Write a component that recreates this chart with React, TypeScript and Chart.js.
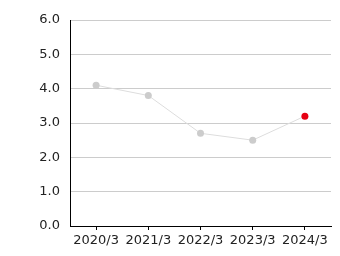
import React, { useEffect, useRef } from "react";
import { Chart, registerables } from "chart.js";

Chart.register(...registerables);

const categories = ["2020/3", "2021/3", "2022/3", "2023/3", "2024/3"];
const values = [4.1, 3.8, 2.7, 2.5, 3.2];
const pointColors = ["#cccccc", "#cccccc", "#cccccc", "#cccccc", "#e60012"];

export default function App() {
  const ref = useRef<HTMLCanvasElement | null>(null);
  useEffect(() => {
    if (!ref.current) return;
    const font = { family: "'DejaVu Sans', Verdana, sans-serif", size: 13 };
    const chart = new Chart(ref.current, {
      type: "line",
      data: {
        labels: categories,
        datasets: [
          {
            data: values,
            borderColor: "#dddddd",
            borderWidth: 1,
            pointBackgroundColor: pointColors,
            pointBorderColor: pointColors,
            pointRadius: 3.5,
            pointBorderWidth: 0,
            tension: 0,
          },
        ],
      },
      options: {
        animation: false,
        responsive: false,
        maintainAspectRatio: false,
        layout: { padding: { top: 20, right: 9, left: 0, bottom: 0 } },
        plugins: { legend: { display: false }, tooltip: { enabled: false } },
        scales: {
          x: {
            type: "category",
            offset: true,
            grid: { drawOnChartArea: false, drawTicks: true, tickLength: 4, color: "#000" },
            border: { color: "#000", width: 1 },
            ticks: { font, color: "#222", padding: 3, maxRotation: 0 },
            afterFit: (s: any) => {
              s.height = 30;
            },
          },
          y: {
            min: 0,
            max: 6,
            ticks: {
              stepSize: 1,
              font,
              color: "#222",
              padding: 10,
              callback: (v: any) => Number(v).toFixed(1),
            },
            grid: { color: "#cccccc", drawTicks: false },
            border: { color: "#000", width: 1 },
            afterFit: (s: any) => {
              s.width = 70;
            },
          },
        },
      },
    });
    return () => chart.destroy();
  }, []);
  return (
    <div style={{ position: "fixed", left: 0, top: 0, width: 340, height: 256, background: "#fff" }}>
      <canvas ref={ref} width={340} height={256} style={{ width: 340, height: 256, display: "block" }} />
    </div>
  );
}
